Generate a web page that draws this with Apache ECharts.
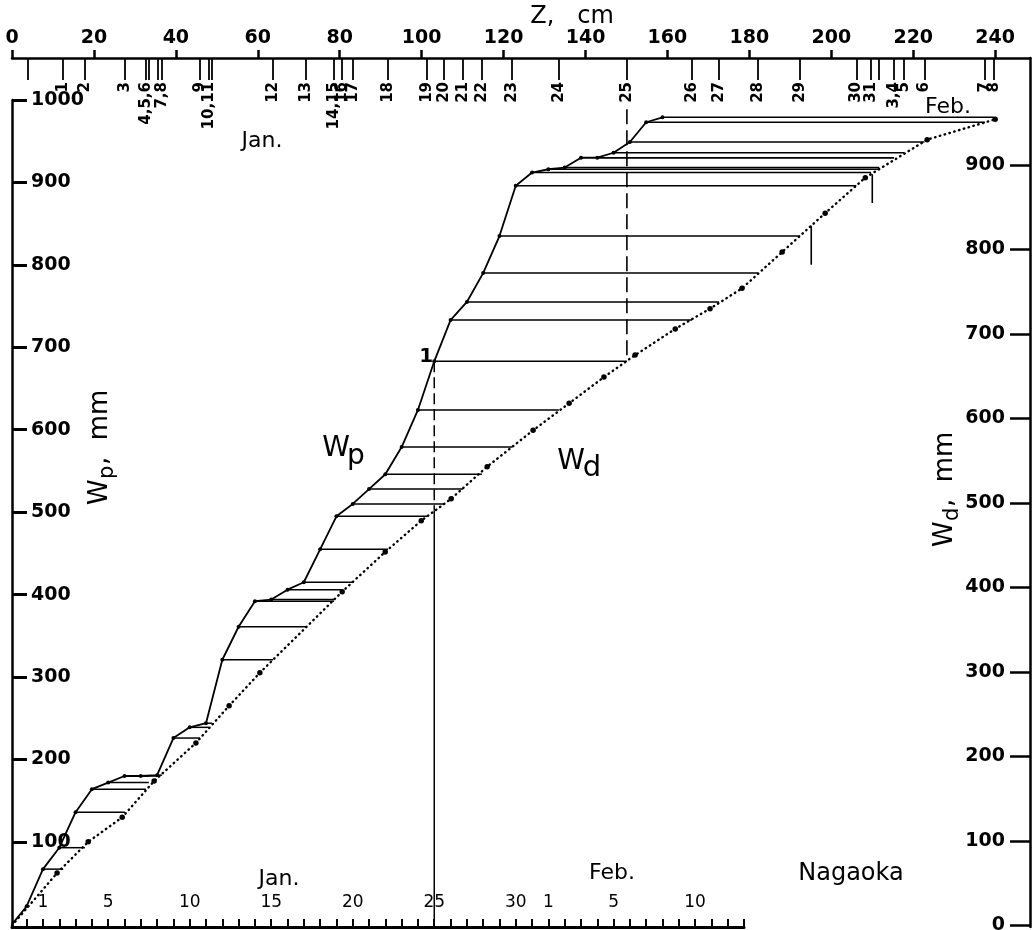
<!DOCTYPE html>
<html>
<head>
<meta charset="utf-8">
<script src="https://cdn.jsdelivr.net/npm/echarts@6/dist/echarts.min.js"></script>
<style>html,body{margin:0;padding:0;background:#fff}#c{width:1036px;height:930px}</style>
</head>
<body>
<div id="c"></div>
<script>
// ---------------- data ----------------
// day number: Jan 1 = 1 ... Jan 31 = 31, Feb n = 31 + n (first entry = start of record)
const days = [-0.9, 0, 1, 2, 3, 4, 5, 6, 7, 8, 9, 10, 11, 12, 13, 14, 15, 16, 17, 18, 19, 20,
  21, 22, 23, 24, 25, 26, 27, 28, 29, 30, 31, 32, 33, 34, 35, 36, 37, 38, 39];
// cumulative precipitation Wp (mm) on each day
const wp = [0, 22, 67, 93, 136, 164, 172, 180, 180, 181, 226, 239, 244, 321, 361, 392, 394, 406, 415, 455, 495, 510,
  528, 546, 579, 624, 683, 733, 755, 790, 835, 896, 912, 916, 918, 930, 930, 936, 949, 973, 979];
// snow depth Z (cm) on each day
const depth = [null, 3.9, 12.5, 17.8, 27.6, 32.7, 33.4, 33.4, 35.6, 36.6, 45.9, 48.1, 48.8, 63.7, 71.8, 78.6, 78.6, 80.6, 83.3, 91.8, 101.3, 105.5,
  110.1, 114.7, 122.1, 133.5, 150.1, 166.0, 172.6, 182.1, 192.4, 206.1, 209.7, 211.7, 211.7, 215.3, 215.3, 217.8, 222.7, 237.5, 239.7];
// date labels written under the depth ticks on the top axis
const depthLabels = ['', '', '1', '2', '3', '4,5,6', '', '', '', '7,8', '9', '10,11', '', '12', '13', '14,15', '', '16', '17', '18', '19', '20',
  '21', '22', '23', '24', '25', '26', '27', '28', '29', '30', '31', '', '', '3,4', '', '5', '6', '7', '8'];

// Wd curve (dotted): snow depth Z (cm) vs water equivalent Wd (mm)
const wdZ = [0, 11.0, 18.6, 26.9, 34.7, 44.9, 53.0, 60.5, 80.6, 91.1, 99.9, 107.2, 116.0, 127.2, 136.0, 144.5, 152.1, 161.9, 170.4, 178.2, 188.0, 198.5, 208.3, 223.4, 240.0];
const wdVal = [0, 62, 99, 128, 171, 216, 260, 299, 395, 442, 479, 505, 543, 586, 618, 649, 675, 706, 730, 754, 797, 843, 885, 930, 954];

// marker A / B on the Wd curve: [Z, Wd top, Wd bottom]
const markA = [210.0, 889, 855];
const markB = [195.1, 828, 782];
// vertical guide at Jan 25 (day, Wp at point 1, Wp where it meets Wd curve)
const guideDay = [25, 683, 502];
// vertical guide at Z of Jan 25 (Z, Wd top, Wd at point 2)
const guideZ = [150.1, 966, 668];

// tick labels
const zTicks = [0, 20, 40, 60, 80, 100, 120, 140, 160, 180, 200, 220, 240];
const wpTicks = [100, 200, 300, 400, 500, 600, 700, 800, 900, 1000];
const wdTicks = [0, 100, 200, 300, 400, 500, 600, 700, 800, 900];
const dayTicks = [0, 1, 2, 3, 4, 5, 6, 7, 8, 9, 10, 11, 12, 13, 14, 15, 16, 17, 18, 19, 20, 21, 22,
  23, 24, 25, 26, 27, 28, 29, 30, 31, 32, 33, 34, 35, 36, 37, 38, 39, 40, 41, 42, 43, 44];
const dayLabelValues = [1, 5, 10, 15, 20, 25, 30, 32, 36, 41];
const dayLabelTexts = ['1', '5', '10', '15', '20', '25', '30', '1', '5', '10'];

// ---------------- chart ----------------
const FONT = '"DejaVu Sans", sans-serif';
const BLACK = '#000';
const Z_MAX = 248.5;
const chart = echarts.init(document.getElementById('c'), null, {renderer: 'canvas'});

const depthTickValues = [];
depth.forEach(function (z) { if (z !== null && depthTickValues.indexOf(z) < 0) depthTickValues.push(z); });
const depthLabelValues = [];
const depthLabelMap = {};
depth.forEach(function (z, i) {
  if (z !== null && depthLabels[i] !== '') { depthLabelValues.push(z); depthLabelMap[z.toFixed(1)] = depthLabels[i]; }
});
// an empty label at the axis end keeps ECharts' max-label overlap rule from dropping "7" or "8"
depthLabelValues.push(Z_MAX);
const dayLabelMap = {};
dayLabelValues.forEach(function (v, i) { dayLabelMap[v] = dayLabelTexts[i]; });

const solidData = days.map(function (d, i) {
  const item = {value: [d, wp[i]]};
  if (i === 0) item.symbol = 'none';
  if (d === guideDay[0]) {
    item.label = {show: true, formatter: '1', position: 'left', distance: 1, offset: [2, -5],
      fontSize: 20, fontWeight: 'bold', fontFamily: FONT, color: BLACK};
  }
  return item;
});
const hLineData = [];
days.forEach(function (d, i) { if (d >= 1 && depth[i] !== null) hLineData.push([d, wp[i], depth[i]]); });
const dottedData = wdZ.map(function (z, i) {
  const item = {value: [z, wdVal[i]]};
  if (i === 0) item.symbol = 'none';
  return item;
});

function txt(x, y, text, size) {
  return {type: 'text', x: x, y: y, silent: true,
    style: {text: text, font: size + 'px ' + FONT, fill: BLACK, align: 'center', verticalAlign: 'middle'}};
}
function subName(cx, cy, main, sub, rest, rot) {
  return {type: 'group', x: cx, y: cy, rotation: rot, silent: true, children: [
    {type: 'text', x: -68, y: 0, style: {text: main, font: '26px ' + FONT, fill: BLACK, align: 'left', verticalAlign: 'middle'}},
    {type: 'text', x: -42, y: 8, style: {text: sub, font: '21px ' + FONT, fill: BLACK, align: 'left', verticalAlign: 'middle'}},
    {type: 'text', x: -28, y: 0, style: {text: rest, font: '26px ' + FONT, fill: BLACK, align: 'left', verticalAlign: 'middle'}}
  ]};
}

const axisLabelBase = {color: BLACK, fontFamily: FONT};

const option = {
  animation: false,
  backgroundColor: '#fff',
  grid: [
    {left: 12, right: 6, top: 58, bottom: 3, containLabel: false, outerBoundsMode: 'none'},
    {left: 12, right: 292, top: 100, bottom: 3, containLabel: false, outerBoundsMode: 'none'}
  ],
  xAxis: [
    { // Z, cm major scale
      gridIndex: 0, type: 'value', position: 'top', min: 0, max: Z_MAX,
      axisLine: {show: true, onZero: false, lineStyle: {color: BLACK, width: 2.5}},
      axisTick: {show: true, inside: false, length: 8, customValues: zTicks, lineStyle: {color: BLACK, width: 2.5}},
      axisLabel: Object.assign({show: true, customValues: zTicks, margin: 10, fontSize: 19, fontWeight: 'bold',
        showMinLabel: true, showMaxLabel: true,
        formatter: function (v) { return String(v); }}, axisLabelBase),
      splitLine: {show: false}
    },
    { // daily snow depth ticks
      gridIndex: 0, type: 'value', position: 'top', min: 0, max: Z_MAX,
      axisLine: {show: false, onZero: false},
      axisTick: {show: true, inside: true, length: 22, customValues: depthTickValues, lineStyle: {color: BLACK, width: 1.8}},
      axisLabel: Object.assign({show: true, inside: true, rotate: -90, margin: 24, customValues: depthLabelValues,
        fontSize: 15, fontWeight: 'bold', hideOverlap: false, showMinLabel: true, showMaxLabel: true,
        rich: {gap: {width: 13, fontSize: 15}},
        formatter: function (v) {
          const t = depthLabelMap[Number(v).toFixed(1)] || '';
          return t === '16' ? '{gap| }' + t : t;
        }}, axisLabelBase),
      splitLine: {show: false}
    },
    { // calendar days
      gridIndex: 1, type: 'value', position: 'bottom', min: -0.9, max: 44,
      axisLine: {show: true, onZero: false, lineStyle: {color: BLACK, width: 3}},
      axisTick: {show: true, inside: true, length: 8, customValues: dayTicks, lineStyle: {color: BLACK, width: 2}},
      axisLabel: Object.assign({show: true, inside: true, margin: 16, customValues: dayLabelValues, fontSize: 17,
        showMinLabel: true, showMaxLabel: true,
        formatter: function (v) { return dayLabelMap[Math.round(v)] || ''; }}, axisLabelBase),
      splitLine: {show: false}
    }
  ],
  yAxis: [
    { // Wd, mm (right)
      gridIndex: 0, type: 'value', position: 'right', min: -1.8, max: 1026.6,
      axisLine: {show: true, onZero: false, lineStyle: {color: BLACK, width: 2.5}},
      axisTick: {show: true, inside: true, length: 20, customValues: wdTicks, lineStyle: {color: BLACK, width: 2.5}},
      axisLabel: Object.assign({show: true, inside: true, margin: 25, customValues: wdTicks, fontSize: 19, fontWeight: 'bold',
        showMinLabel: true, showMaxLabel: true,
        formatter: function (v) { return String(v); }}, axisLabelBase),
      splitLine: {show: false}
    },
    { // Wp, mm (left)
      gridIndex: 1, type: 'value', position: 'left', min: -3.2, max: 1000,
      axisLine: {show: true, onZero: false, lineStyle: {color: BLACK, width: 2.5}},
      axisTick: {show: true, inside: true, length: 15, customValues: wpTicks, lineStyle: {color: BLACK, width: 3}},
      axisLabel: Object.assign({show: true, inside: true, margin: 19, customValues: wpTicks, fontSize: 19, fontWeight: 'bold',
        showMinLabel: true, showMaxLabel: true,
        formatter: function (v) { return String(v); }}, axisLabelBase),
      splitLine: {show: false}
    }
  ],
  series: [
    { // horizontal links from Wp(day) to snow depth Z(day)
      type: 'custom', xAxisIndex: 2, yAxisIndex: 1, data: hLineData, silent: true, z: 1,
      renderItem: function (params, api) {
        const p = api.coord([api.value(0), api.value(1)]);
        const x2 = chart.convertToPixel({xAxisIndex: 0}, api.value(2));
        return {type: 'line', shape: {x1: p[0], y1: p[1], x2: x2, y2: p[1]},
          style: {stroke: BLACK, lineWidth: 1.5}};
      }
    },
    { // Wp curve
      type: 'line', xAxisIndex: 2, yAxisIndex: 1, data: solidData, z: 3,
      symbol: 'circle', symbolSize: 4, showSymbol: true,
      lineStyle: {color: BLACK, width: 1.8}, itemStyle: {color: BLACK}
    },
    { // Wd curve (dotted)
      type: 'line', xAxisIndex: 0, yAxisIndex: 0, data: dottedData, z: 3,
      symbol: 'circle', symbolSize: 5.5, showSymbol: true,
      lineStyle: {color: BLACK, width: 2.4, type: [0.5, 4.5], cap: 'round'}, itemStyle: {color: BLACK}
    },
    { // Jan 25 guide, dashed part
      type: 'line', xAxisIndex: 2, yAxisIndex: 1, symbol: 'none', silent: true,
      data: [[guideDay[0], guideDay[1]], [guideDay[0], guideDay[2]]],
      lineStyle: {color: BLACK, width: 1.5, type: [11, 5]}
    },
    { // Jan 25 guide, solid part
      type: 'line', xAxisIndex: 2, yAxisIndex: 1, symbol: 'none', silent: true,
      data: [[guideDay[0], guideDay[2]], [guideDay[0], -3.2]],
      lineStyle: {color: BLACK, width: 1.5}
    },
    { // guide at Z of Jan 25
      type: 'line', xAxisIndex: 0, yAxisIndex: 0, symbol: 'none', silent: true,
      data: [[guideZ[0], guideZ[1]], {value: [guideZ[0], guideZ[2]],
        label: {show: true, formatter: '2', position: 'bottom', distance: 4, offset: [9, 0],
          fontSize: 21, fontWeight: 'bold', fontFamily: FONT, color: BLACK}}],
      lineStyle: {color: BLACK, width: 1.6, type: [15, 6]}
    },
    { // marker A
      type: 'line', xAxisIndex: 0, yAxisIndex: 0, symbol: 'none', silent: true,
      data: [[markA[0], markA[1]], {value: [markA[0], markA[2]],
        label: {show: true, formatter: 'A', position: 'bottom', distance: 4,
          fontSize: 21, fontWeight: 'bold', fontFamily: FONT, color: BLACK}}],
      lineStyle: {color: BLACK, width: 1.6}
    },
    { // marker B
      type: 'line', xAxisIndex: 0, yAxisIndex: 0, symbol: 'none', silent: true,
      data: [[markB[0], markB[1]], {value: [markB[0], markB[2]],
        label: {show: true, formatter: 'B', position: 'bottom', distance: 4,
          fontSize: 21, fontWeight: 'bold', fontFamily: FONT, color: BLACK}}],
      lineStyle: {color: BLACK, width: 1.6}
    }
  ],
  graphic: [
    txt(572, 17, 'Z,   cm', 24),
    txt(262, 141, 'Jan.', 22),
    txt(948, 107, 'Feb.', 22),
    txt(279, 879, 'Jan.', 22),
    txt(612, 873, 'Feb.', 22),
    txt(851, 874, 'Nagaoka', 24),
    txt(336, 449, 'W', 28),
    txt(356, 457, 'p', 28),
    txt(571, 462, 'W', 28),
    txt(592, 468, 'd', 29),
    subName(100, 437, 'W', 'p', ',  mm', Math.PI / 2),
    subName(945, 479, 'W', 'd', ',  mm', Math.PI / 2)
  ]
};
chart.setOption(option);
</script>
</body>
</html>
